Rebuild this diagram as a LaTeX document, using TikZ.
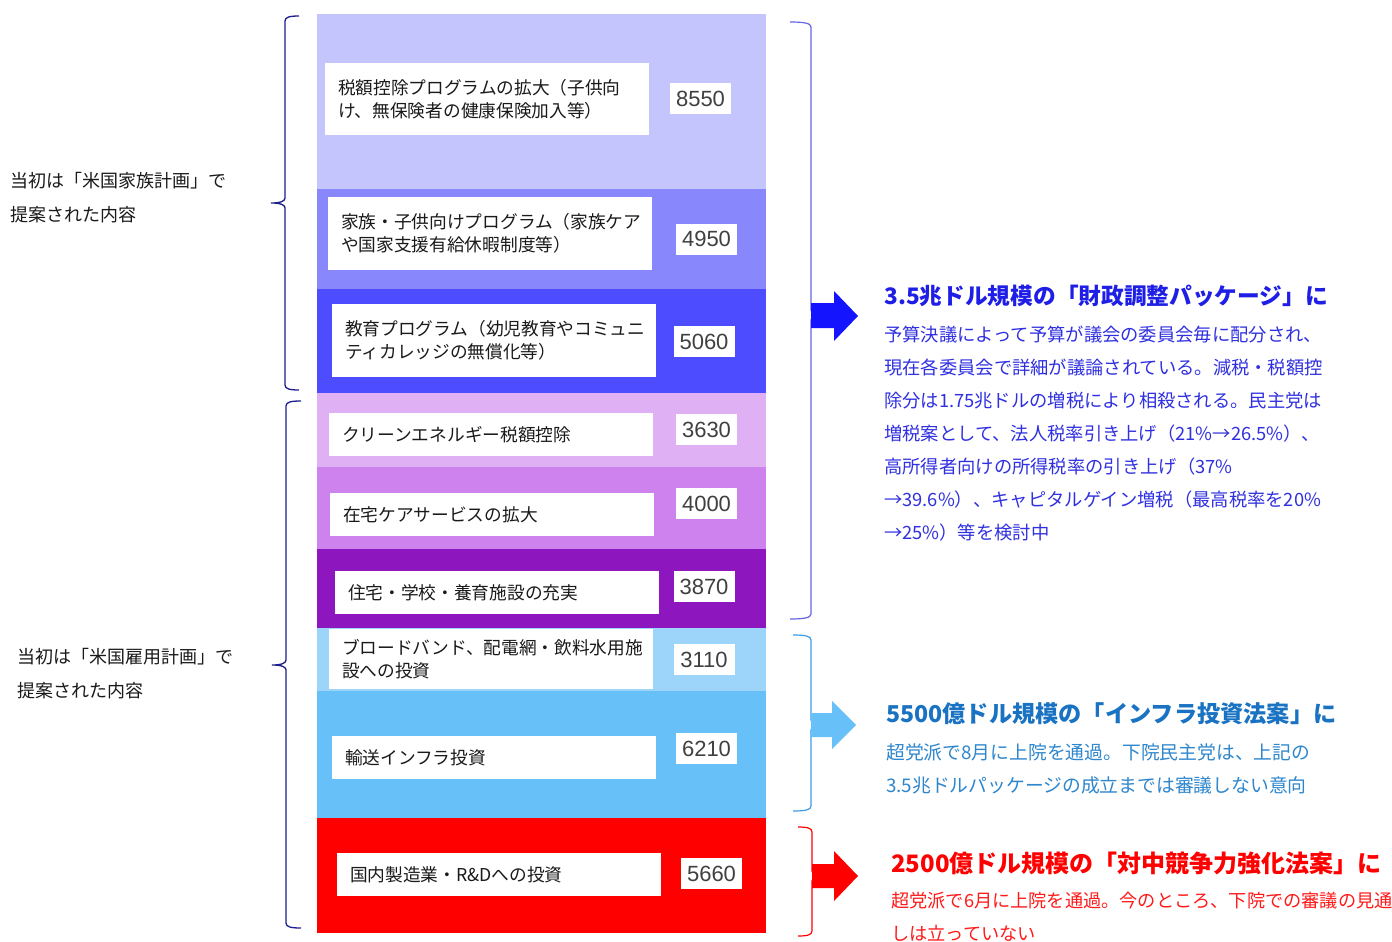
\documentclass[tikz,border=0pt]{standalone}
\usepackage{fontspec}
\newfontfamily\jp{Noto Sans CJK JP}
\newfontfamily\numf{Liberation Sans}
\definecolor{barA}{HTML}{C5C5FD}
\definecolor{barB}{HTML}{8888FC}
\definecolor{barC}{HTML}{4D4DFF}
\definecolor{barD}{HTML}{E0B0F4}
\definecolor{barE}{HTML}{CE82EE}
\definecolor{barF}{HTML}{8E16BE}
\definecolor{barG}{HTML}{9DD5FA}
\definecolor{barH}{HTML}{68C0F8}
\definecolor{barI}{HTML}{FF0000}
\definecolor{navy}{HTML}{1E1E8C}
\definecolor{brA}{HTML}{6464E6}
\definecolor{brB}{HTML}{3C9BEB}
\definecolor{arA}{HTML}{1414FF}
\definecolor{arB}{HTML}{68C0F8}
\definecolor{tA}{HTML}{1E1EE6}
\definecolor{bA}{HTML}{3030E0}
\definecolor{tB}{HTML}{1A73C2}
\definecolor{bB}{HTML}{2E86CC}
\definecolor{tC}{HTML}{FF0000}
\definecolor{bC}{HTML}{FF1A1A}
\definecolor{numgray}{HTML}{404040}
\definecolor{txt}{HTML}{1A1A1A}
\tikzset{
  lbl/.style={fill=white, inner xsep=13pt, inner ysep=0pt, text width=298pt, align=left,
    text=txt, font=\jp\fontsize{17.7}{23}\selectfont},
  numbox/.style={fill=white, inner sep=0pt, minimum width=61pt, minimum height=31pt,
    text=numgray, font=\numf\fontsize{22}{24}\selectfont},
  sidetxt/.style={inner sep=0pt, anchor=west, align=left, text=txt,
    font=\jp\fontsize{18}{34}\selectfont},
  rtitle/.style={inner sep=0pt, anchor=west, font=\jp\bfseries\fontsize{#1}{#1}\selectfont},
  rbody/.style={inner sep=0pt, anchor=west, align=left, font=\jp\fontsize{#1}{33}\selectfont},
  bracel/.style={draw=navy, line width=1.3pt},
}
\begin{document}
\begin{tikzpicture}[x=1pt,y=-1pt]
\useasboundingbox[fill=white] (0,0) rectangle (1392,942);
% bars
\fill[barA] (317,14) rectangle (766,189);
\fill[barB] (317,189) rectangle (766,289);
\fill[barC] (317,289) rectangle (766,393);
\fill[barD] (317,393) rectangle (766,467);
\fill[barE] (317,467) rectangle (766,549);
\fill[barF] (317,549) rectangle (766,628);
\fill[barG] (317,628) rectangle (766,691);
\fill[barH] (317,691) rectangle (766,818);
\fill[barI] (317,818) rectangle (766,933);
% labels
\node[lbl, minimum height=72pt] (l1) at (487,99) {税額控除プログラムの拡大（子供向\\け、無保険者の健康保険加入等）};
\node[lbl, minimum height=73pt] (l2) at (490,233.5) {家族・子供向けプログラム（家族ケア\\や国家支援有給休暇制度等）};
\node[lbl, minimum height=73pt] (l3) at (494,340.5) {教育プログラム（幼児教育やコミュニ\\ティカレッジの無償化等）};
\node[lbl, minimum height=43pt] (l4) at (491,434.5) {クリーンエネルギー税額控除};
\node[lbl, minimum height=43pt] (l5) at (492,514.5) {在宅ケアサービスの拡大};
\node[lbl, minimum height=43pt] (l6) at (497,592.5) {住宅・学校・養育施設の充実};
\node[lbl, minimum height=60pt] (l7) at (491,659) {ブロードバンド、配電網・飲料水用施\\設への投資};
\node[lbl, minimum height=43pt] (l8) at (494,757.5) {輸送インフラ投資};
\node[lbl, minimum height=43pt] (l9) at (499,874.5) {国内製造業・R\&Dへの投資};
% numbers
\node[numbox] (n1) at (700.5,98.5) {8550};
\node[numbox] (n2) at (706.5,239) {4950};
\node[numbox] (n3) at (704,341.5) {5060};
\node[numbox] (n4) at (706.5,429.5) {3630};
\node[numbox] (n5) at (706.5,503.5) {4000};
\node[numbox] (n6) at (704,586.5) {3870};
\node[numbox] (n7) at (704,659.5) {3110};
\node[numbox] (n8) at (706.5,748.5) {6210};
\node[numbox] (n9) at (711.5,873.5) {5660};
% left texts
\node[sidetxt] (s1) at (10,198) {当初は「米国家族計画」で\\提案された内容};
\node[sidetxt] (s2) at (17,674) {当初は「米国雇用計画」で\\提案された内容};
% left braces
\draw[bracel] (299,16) .. controls (290,16) and (285,17) .. (285,21) -- (285,198)
  .. controls (285,201) and (281,203) .. (271,203) .. controls (281,203) and (285,205) .. (285,208)
  -- (285,385) .. controls (285,389) and (290,390) .. (299,390);
\draw[bracel] (301,401) .. controls (291,401) and (286,402) .. (286,406) -- (286,660)
  .. controls (286,663) and (282,665) .. (272,665) .. controls (282,665) and (286,667) .. (286,670)
  -- (286,923) .. controls (286,927) and (291,928) .. (301,928);
% right braces
\draw[draw=brA, line width=1.2pt] (790,22) .. controls (803,22) and (811,23) .. (811,27) -- (811,310)
  .. controls (811,313) and (815,315) .. (825,315) .. controls (815,315) and (811,317) .. (811,320)
  -- (811,614) .. controls (811,618) and (803,619) .. (790,619);
\draw[draw=brB, line width=1.2pt] (793,635) .. controls (805,635) and (811,636) .. (811,640) -- (811,720)
  .. controls (811,723) and (815,725) .. (825,725) .. controls (815,725) and (811,727) .. (811,730)
  -- (811,806) .. controls (811,810) and (805,811) .. (793,811);
\draw[draw=barI, line width=1.2pt] (798,827) .. controls (807,827) and (812,828) .. (812,832) -- (812,871)
  .. controls (812,874) and (816,876) .. (826,876) .. controls (816,876) and (812,878) .. (812,881)
  -- (812,931) .. controls (812,935) and (807,936) .. (798,936);
% block arrows
\fill[arA] (811,303) -- (834,303) -- (834,291) -- (858,316) -- (834,341) -- (834,328) -- (811,328) -- cycle;
\fill[arB] (811,713) -- (832,713) -- (832,701) -- (856,725) -- (832,749) -- (832,737) -- (811,737) -- cycle;
\fill[barI] (812,864) -- (834,864) -- (834,851) -- (858,876) -- (834,901) -- (834,888) -- (812,888) -- cycle;
% right texts
\node[rtitle=22.7, text=tA] (t1) at (884,296) {3.5兆ドル規模の「財政調整パッケージ」に};
\node[rbody=18.3, text=bA] (b1) at (884,433.5) {予算決議によって予算が議会の委員会毎に配分され、\\現在各委員会で詳細が議論されている。減税・税額控\\除分は1.75兆ドルの増税により相殺される。民主党は\\増税案として、法人税率引き上げ（21\%→26.5\%）、\\高所得者向けの所得税率の引き上げ（37\%\\→39.6\%）、キャピタルゲイン増税（最高税率を20\%\\→25\%）等を検討中};
\node[rtitle=23.2, text=tB] (t2) at (886,714) {5500億ドル規模の「インフラ投資法案」に};
\node[rbody=18.8, text=bB] (b2) at (886,768.5) {超党派で8月に上院を通過。下院民主党は、上記の\\3.5兆ドルパッケージの成立までは審議しない意向};
\node[rtitle=24, text=tC] (t3) at (891,863) {2500億ドル規模の「対中競争力強化法案」に};
\node[rbody=18.2, text=bC] (b3) at (891,917) {超党派で6月に上院を通過。今のところ、下院での審議の見通\\しは立っていない};
\end{tikzpicture}
\end{document}
